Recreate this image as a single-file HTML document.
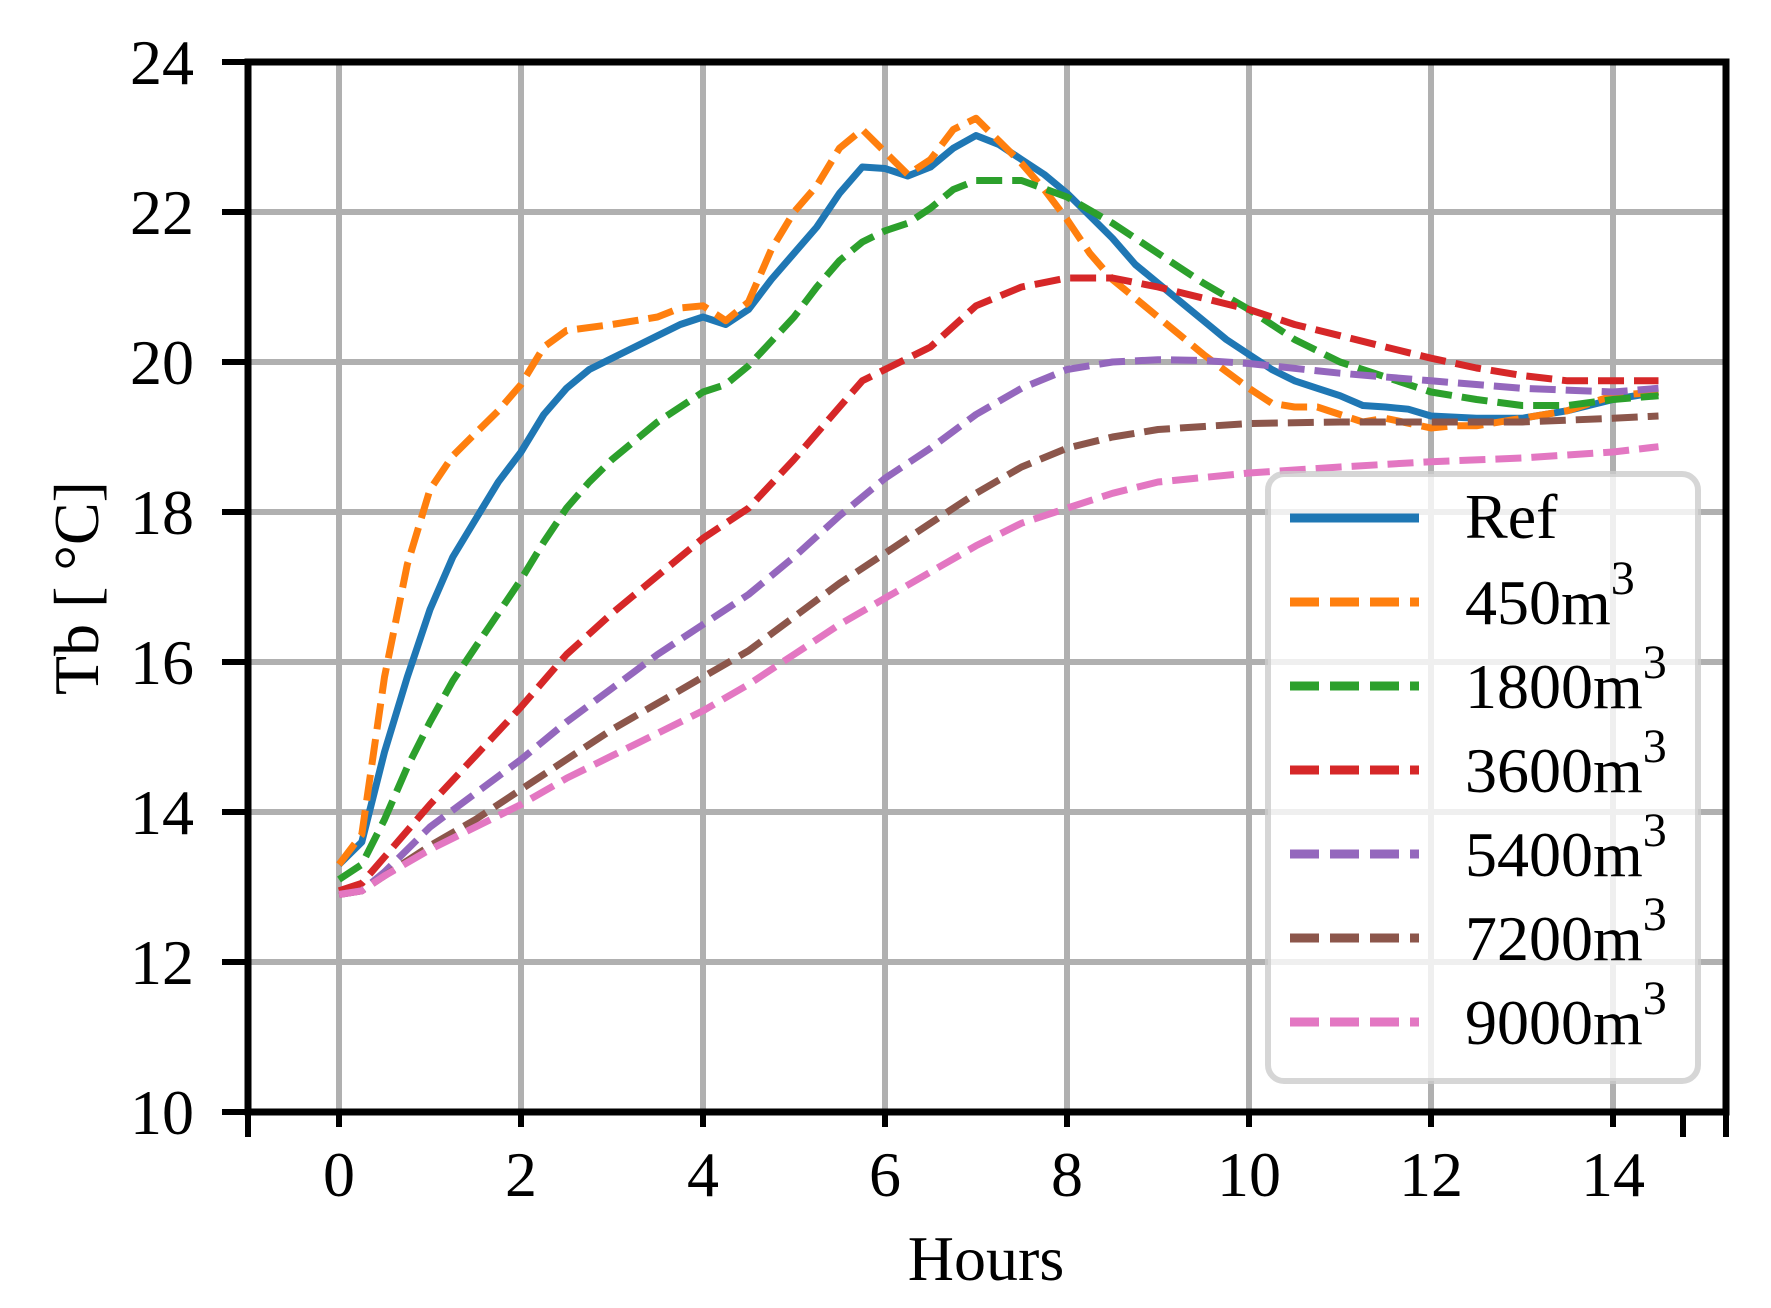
<!DOCTYPE html>
<html><head><meta charset="utf-8"><style>
html,body{margin:0;padding:0;background:#fff;}
svg{display:block;font-family:"Liberation Serif","DejaVu Serif",serif;}
</style></head><body>
<svg id="s" width="1771" height="1308" viewBox="0 0 1771 1308" xmlns="http://www.w3.org/2000/svg">
<rect width="1771" height="1308" fill="#fff"/>
<g id="grid" stroke="#b0b0b0" stroke-width="6"></g>
<g id="lines" fill="none" stroke-width="7" stroke-linejoin="round"></g>
<g id="legend">
<rect x="1268" y="474" width="430" height="607" rx="16" fill="#fff" fill-opacity="0.8" stroke="#cccccc" stroke-opacity="0.8" stroke-width="6"/>
</g>
<g id="axes" stroke="#000" stroke-width="7" fill="none">
<rect x="248" y="62" width="1478" height="1050"/>
</g>
<g id="ticks" stroke="#000" stroke-width="6"></g>
<g font-size="64" fill="#000">
<g text-anchor="end">
<text x="194" y="84">24</text><text x="194" y="234">22</text><text x="194" y="384">20</text><text x="194" y="534">18</text><text x="194" y="684">16</text><text x="194" y="834">14</text><text x="194" y="984">12</text><text x="194" y="1134">10</text>
</g>
<g text-anchor="middle">
<text x="339" y="1196">0</text><text x="521" y="1196">2</text><text x="703" y="1196">4</text><text x="885" y="1196">6</text><text x="1067" y="1196">8</text><text x="1249" y="1196">10</text><text x="1431" y="1196">12</text><text x="1613" y="1196">14</text>
<text x="986" y="1280">Hours</text>
<text transform="translate(98,588) rotate(-90)">Tb [ °C]</text>
</g>
<g>
<text x="1465" y="538">Ref</text>
<text x="1465" y="624">450m<tspan font-size="48" dy="-30">3</tspan></text>
<text x="1465" y="708">1800m<tspan font-size="48" dy="-30">3</tspan></text>
<text x="1465" y="792">3600m<tspan font-size="48" dy="-30">3</tspan></text>
<text x="1465" y="876">5400m<tspan font-size="48" dy="-30">3</tspan></text>
<text x="1465" y="960">7200m<tspan font-size="48" dy="-30">3</tspan></text>
<text x="1465" y="1044">9000m<tspan font-size="48" dy="-30">3</tspan></text>
</g>
</g>
</svg>
<script>
var NS="http://www.w3.org/2000/svg";
function X(h){return 339+h*91;} function Y(t){return 62+(24-t)*75;}
function el(p,tag,a){var e=document.createElementNS(NS,tag);for(var k in a)e.setAttribute(k,a[k]);document.getElementById(p).appendChild(e);return e;}
for(var h=0;h<=14;h+=2){el("grid","line",{x1:X(h),x2:X(h),y1:62,y2:1112});el("ticks","line",{x1:X(h),x2:X(h),y1:1112,y2:1127});}
for(var t=10;t<=24;t+=2){el("grid","line",{x1:248,x2:1726,y1:Y(t),y2:Y(t)});el("ticks","line",{x1:222,x2:248,y1:Y(t),y2:Y(t)});}
[248,1683,1726].forEach(function(x){el("ticks","line",{x1:x,x2:x,y1:1112,y2:1137});});
var S=[
["#1f77b4",null,[[0,13.3],[.25,13.6],[.5,14.8],[.75,15.8],[1,16.7],[1.25,17.4],[1.5,17.9],[1.75,18.4],[2,18.8],[2.25,19.3],[2.5,19.65],[2.75,19.9],[3,20.05],[3.25,20.2],[3.5,20.35],[3.75,20.5],[4,20.6],[4.25,20.5],[4.5,20.7],[4.75,21.1],[5,21.45],[5.25,21.8],[5.5,22.25],[5.75,22.6],[6,22.58],[6.25,22.48],[6.5,22.6],[6.75,22.85],[7,23.02],[7.25,22.9],[7.5,22.7],[7.75,22.5],[8,22.25],[8.25,21.95],[8.5,21.65],[8.75,21.3],[9,21.05],[9.25,20.8],[9.5,20.55],[9.75,20.3],[10,20.1],[10.25,19.9],[10.5,19.75],[10.75,19.65],[11,19.55],[11.25,19.42],[11.5,19.4],[11.75,19.37],[12,19.28],[12.5,19.25],[13,19.25],[13.5,19.35],[14,19.5],[14.5,19.6]]],
["#ff7f0e","26,10",[[0,13.3],[.25,13.7],[.5,15.8],[.75,17.3],[1,18.3],[1.25,18.75],[1.5,19.05],[1.75,19.35],[2,19.7],[2.25,20.2],[2.5,20.42],[3,20.5],[3.5,20.6],[3.75,20.72],[4,20.75],[4.25,20.55],[4.5,20.8],[4.75,21.5],[5,22.0],[5.25,22.35],[5.5,22.85],[5.75,23.1],[6,22.8],[6.25,22.5],[6.5,22.7],[6.75,23.1],[7,23.25],[7.25,22.95],[7.5,22.65],[7.75,22.3],[8,21.9],[8.25,21.45],[8.5,21.1],[8.75,20.85],[9,20.6],[9.5,20.1],[10,19.65],[10.25,19.45],[10.5,19.4],[10.75,19.4],[11,19.3],[11.25,19.2],[11.5,19.25],[12,19.12],[12.25,19.15],[12.5,19.15],[13,19.25],[13.5,19.35],[14,19.55],[14.5,19.6]]],
["#2ca02c","26,10",[[0,13.1],[.25,13.3],[.5,13.9],[.75,14.6],[1,15.2],[1.25,15.75],[1.5,16.2],[1.75,16.65],[2,17.1],[2.25,17.6],[2.5,18.05],[2.75,18.4],[3,18.7],[3.5,19.2],[4,19.6],[4.25,19.7],[4.5,19.95],[5,20.6],[5.25,21.0],[5.5,21.35],[5.75,21.6],[6,21.75],[6.25,21.85],[6.5,22.05],[6.75,22.3],[7,22.42],[7.5,22.42],[8,22.2],[8.5,21.85],[9,21.45],[9.5,21.05],[10,20.7],[10.5,20.3],[11,20.0],[11.5,19.8],[12,19.6],[12.5,19.5],[13,19.42],[13.5,19.42],[14,19.5],[14.5,19.55]]],
["#d62728","26,10",[[0,12.95],[.25,13.05],[.5,13.4],[1,14.1],[1.5,14.75],[2,15.4],[2.5,16.1],[3,16.65],[3.5,17.15],[4,17.65],[4.5,18.05],[5,18.7],[5.5,19.4],[5.75,19.75],[6,19.9],[6.5,20.2],[7,20.75],[7.5,21.0],[8,21.12],[8.5,21.12],[9,21.0],[9.5,20.85],[10,20.7],[10.5,20.5],[11,20.35],[11.5,20.2],[12,20.05],[12.5,19.92],[13,19.82],[13.5,19.75],[14,19.75],[14.5,19.75]]],
["#9467bd","26,10",[[0,12.9],[.25,12.95],[.5,13.2],[1,13.8],[1.5,14.25],[2,14.7],[2.5,15.2],[3,15.65],[3.5,16.1],[4,16.5],[4.5,16.9],[5,17.4],[5.5,17.95],[6,18.45],[6.5,18.85],[7,19.3],[7.5,19.65],[8,19.9],[8.5,20.0],[9,20.03],[9.5,20.02],[10,19.98],[11,19.85],[12,19.75],[13,19.65],[14,19.6],[14.5,19.65]]],
["#8c564b","26,10",[[0,12.9],[.25,12.95],[.5,13.15],[1,13.55],[1.5,13.9],[2,14.3],[2.5,14.7],[3,15.1],[3.5,15.45],[4,15.8],[4.5,16.15],[5,16.6],[5.5,17.05],[6,17.45],[6.5,17.85],[7,18.25],[7.5,18.6],[8,18.85],[8.5,19.0],[9,19.1],[10,19.18],[11,19.2],[12,19.2],[13,19.2],[14,19.25],[14.5,19.28]]],
["#e377c2","26,10",[[0,12.9],[.25,12.95],[.5,13.15],[1,13.5],[1.5,13.8],[2,14.1],[2.5,14.45],[3,14.75],[3.5,15.05],[4,15.35],[4.5,15.7],[5,16.1],[5.5,16.5],[6,16.85],[6.5,17.2],[7,17.55],[7.5,17.85],[8,18.05],[8.5,18.25],[9,18.4],[10,18.52],[11,18.6],[12,18.67],[13,18.72],[14,18.8],[14.5,18.87]]]
];
S.forEach(function(s,i){
 var a={stroke:s[0],points:s[2].map(function(p){return X(p[0]).toFixed(1)+","+Y(p[1]).toFixed(1);}).join(" ")};
 if(s[1])a["stroke-dasharray"]=s[1];
 el("lines","polyline",a);
 var y=518+i*84;
 var b={x1:1290,x2:1419,y1:y,y2:y,stroke:s[0],"stroke-width":9};
 if(s[1])b["stroke-dasharray"]="29,11";
 el("legend","line",b);
});
</script>
</body></html>
